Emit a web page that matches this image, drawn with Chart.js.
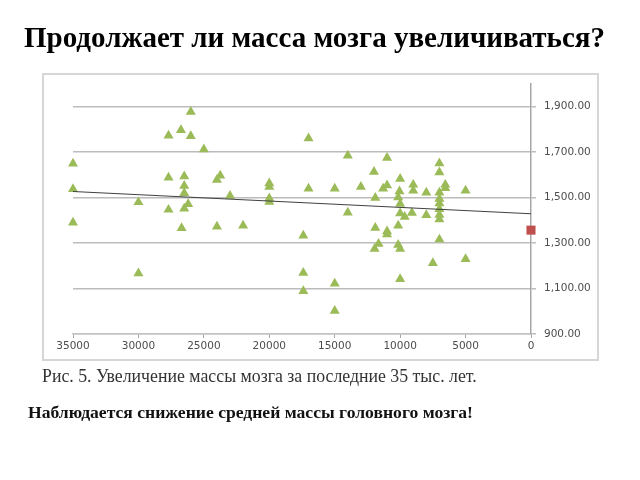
<!DOCTYPE html>
<html>
<head>
<meta charset="utf-8">
<script src="https://cdn.jsdelivr.net/npm/chart.js@4/dist/chart.umd.min.js"></script>
<style>
  html, body { margin: 0; padding: 0; background: #fff; }
  body { width: 640px; height: 480px; position: relative; overflow: hidden; }
  #frame { position: absolute; left: 42px; top: 73px; width: 557px; height: 288px;
           border: 2px solid #d6d6d6; box-sizing: border-box; }
  #wrap { position: absolute; left: 0; top: 0; width: 640px; height: 480px; }
  .txt { position: absolute; font-family: "Liberation Serif", "Times New Roman", serif; white-space: nowrap; }
  #title { left: 24px; top: 21px; font-size: 29px; font-weight: bold; color: #000; }
  #caption { left: 42px; top: 366px; font-size: 17.8px; color: #333; }
  #note { left: 28px; top: 402px; font-size: 17.6px; font-weight: bold; color: #111; }
</style>
</head>
<body>
<div id="frame"></div>
<div id="wrap"><canvas id="brain-chart" width="640" height="480"></canvas></div>
<div class="txt" id="title">Продолжает ли масса мозга увеличиваться?</div>
<div class="txt" id="caption">Рис. 5. Увеличение массы мозга за последние 35 тыс. лет.</div>
<div class="txt" id="note">Наблюдается снижение средней массы головного мозга!</div>
<script>
// years ago (x) and brain mass (y)
const yearsAgo = [
  35000, 35000, 35000, 30000, 30000, 27700, 27700, 27700, 26750, 26000,
  26000, 26500, 26500, 26500, 26500, 26200, 26700, 25000, 24000, 23750,
  24000, 23000, 22000, 20000, 20000, 20000, 20000, 17000, 17000, 17400,
  17400, 17400, 15000, 15000, 15000, 14000, 14000, 13000, 12000, 11300,
  11000, 11000, 11900, 11900, 11000, 11000, 11650, 11950, 10000, 10050,
  10150, 10000, 10000, 9650, 9100, 10150, 10150, 10000, 10000, 9000,
  9000, 8000, 8000, 7000, 7000, 7000, 7000, 7000, 7000, 7000,
  7000, 7000, 7500, 6550, 6550, 5000, 5000
];
const brainMass = [
  1650, 1538, 1390, 1480, 1167, 1773, 1588, 1447, 1797, 1878,
  1771, 1594, 1552, 1520, 1452, 1472, 1366, 1713, 1578, 1597,
  1373, 1508, 1377, 1563, 1548, 1497, 1481, 1761, 1540, 1333,
  1169, 1089, 1540, 1122, 1002, 1685, 1434, 1548, 1614, 1540,
  1675, 1554, 1499, 1367, 1352, 1339, 1297, 1275, 1583, 1528,
  1501, 1473, 1431, 1416, 1433, 1377, 1292, 1275, 1142, 1557,
  1531, 1522, 1423, 1651, 1611, 1522, 1495, 1475, 1450, 1424,
  1405, 1316, 1212, 1557, 1542, 1531, 1230
];
const trendX = [35000, 0];
const trendY = [1527, 1429];
const todayX = [0];
const todayY = [1357];
const xTickValues = [35000, 30000, 25000, 20000, 15000, 10000, 5000, 0];
const yTickValues = [900, 1100, 1300, 1500, 1700, 1900];

const toPoints = (xs, ys) => xs.map((x, i) => ({ x: x, y: ys[i] }));

const ctx = document.getElementById("brain-chart");

let brainChart = new Chart(ctx, {
  type: "scatter",
  data: {
    datasets: [
      {
        label: "Trend",
        type: "line",
        data: toPoints(trendX, trendY),
        borderColor: "#404040",
        borderWidth: 1.2,
        pointRadius: 0,
        fill: false,
        clip: false,
      },
      {
        label: "Mass",
        data: toPoints(yearsAgo, brainMass),
        pointStyle: "triangle",
        pointRadius: 5.8,
        backgroundColor: "#9bbb59",
        borderWidth: 0,
        clip: false,
      },
      {
        label: "Today",
        data: toPoints(todayX, todayY),
        pointStyle: "rect",
        pointRadius: 6.4,
        backgroundColor: "#c0504d",
        borderWidth: 0,
        clip: false,
      },
    ],
  },
  options: {
    responsive: false,
    animation: false,
    layout: {
      padding: { left: 73, top: 84, right: 39, bottom: 124 },
    },
    plugins: {
      legend: { display: false },
      title: { display: false },
      tooltip: { enabled: false },
    },
    scales: {
      x: {
        type: "linear",
        reverse: true,
        min: 0,
        max: 35000,
        afterBuildTicks: (scale) => {
          scale.ticks = xTickValues.map((v) => ({ value: v }));
        },
        afterFit: (scale) => {
          scale.height = 22;
        },
        grid: {
          drawOnChartArea: false,
          drawTicks: true,
          tickLength: 4,
          color: "#a6a6a6",
        },
        border: { display: true, color: "#c4c4c4", width: 1.5 },
        ticks: {
          padding: 2,
          color: "#4d4d4d",
          font: { family: "DejaVu Sans", size: 10.5 },
          maxRotation: 0,
          callback: (v) => String(v),
        },
      },
      y: {
        position: "right",
        min: 900,
        max: 2000,
        afterBuildTicks: (scale) => {
          scale.ticks = yTickValues.map((v) => ({ value: v }));
        },
        afterFit: (scale) => {
          scale.width = 70;
        },
        grid: {
          color: "#bcbcbc",
          lineWidth: 1.5,
          drawTicks: true,
          tickLength: 5,
        },
        border: { display: true, color: "#a6a6a6", width: 1.5 },
        ticks: {
          padding: 8,
          color: "#4d4d4d",
          font: { family: "DejaVu Sans", size: 10.5 },
          callback: (v) =>
            Number(v).toLocaleString("en-US", {
              minimumFractionDigits: 2,
              maximumFractionDigits: 2,
            }),
        },
      },
    },
  },
});
</script>
</body>
</html>
